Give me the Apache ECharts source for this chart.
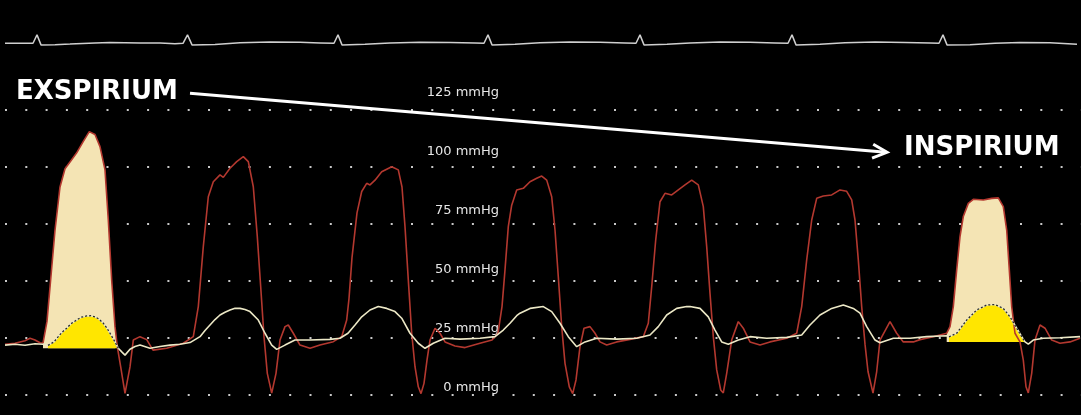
<!DOCTYPE html>
<html>
<head>
<meta charset="utf-8">
<script src="https://cdn.jsdelivr.net/npm/echarts@6/dist/echarts.min.js"></script>
<style>
html,body{margin:0;padding:0;background:#000;}
#chart{width:1081px;height:415px;}
</style>
</head>
<body>
<div id="chart"></div>
<script>
// ---- data (time in samples, pressure in mmHg) ----
const pressureTicks = [0, 25, 50, 75, 100, 125];

// arterial pressure (red)
const arterial = [
[5,22],[15,22.4],[25,23.5],[30,24.6],[35,23.8],[40,22.6],[43,22.5],[47,32],[50,47],[55,72],[60,91],[65,99],[70,102],[76.7,106],[83.3,111],[89.3,115.3],[95,114],[100,108.7],[105,98.5],[108.3,76.5],[111.7,50],[115,29.7],[117.3,20.9],[120.7,12],[125,0.4],[130,12],[133.3,23.8],[140,25.3],[146.7,24],[153,19.4],[166.7,20.2],[176.7,21.5],
[183.3,22.4],[193.3,25.3],[198.3,38.5],[203.3,64.8],[208.3,86.7],[213.3,93.3],[220,96.3],[223.3,95.2],[230,99.2],[236.7,102.1],[243.3,104.3],[248.3,102.1],[253.3,91.1],[257.3,69.2],[260.7,47.2],[264,25.3],[267.3,9.2],[271.7,0.5],[276,9.2],[280,23.8],[285,29.7],[288.3,30.4],[293.3,26.8],[300,21.6],[310,20.2],[320,21.6],[333.3,23.1],[341.7,25.3],[346.7,32.6],
[349,42],[352,60],[357,79.6],[361.7,89],[366.7,92.6],[370,91.9],[375,94],[381.7,97.7],[391.7,99.9],[398.3,98.5],[402,91],[405,73.6],[408.3,50.2],[411.7,26.8],[415,12.1],[418.3,3.3],[421,0.3],[424,4.8],[427,15],[430,23.8],[435,29],[440,26.8],[445,23],[455,21.2],[465,20.5],[480,22.4],[492,23.8],[498,26.8],
[502,38.5],[505,54.6],[508.3,73.6],[511.7,83],[516.7,89.7],[523.3,90.4],[530,93.3],[536.7,94.8],[541.7,95.8],[546.7,94],[551.7,86.7],[555,72.1],[558.3,51.6],[561.7,29.7],[565,13.6],[569.3,3.3],[572.7,0.3],[576,6.3],[580,20.9],[584,29],[590,29.7],[595,26.8],[600,23],[606.7,21.6],[616.7,23],[630,24.1],[643.3,25.3],
[648.3,31.2],[651.7,47.2],[655.7,67.7],[660,84.5],[665,88.2],[671.7,87.5],[678.3,89.7],[685,91.9],[691.7,94],[698.3,91.9],[703.3,82.4],[706.7,64.8],[710,44.3],[713.3,25.3],[716.7,10.7],[720.7,1.9],[723.3,0.6],[726.7,9.2],[731.7,23.8],[738.3,31.9],[743.3,29],[750,23],[760,21.6],[770,23],[786.7,24.6],[796.7,26.8],
[801.7,38.5],[806.7,59],[811.7,76.5],[816.7,86],[823.3,87],[831.7,87.5],[840,89.7],[846.7,89.1],[851.7,85.3],[855,76.5],[858.3,59],[861.7,38.5],[865,22],[868,10],[873,0.5],[876.7,10],[880,23.8],[890,31.9],[896.7,26.8],[903.3,23],[913.3,23],[920,24],[933.3,25.3],[946.7,26.8],
[950,29.7],[953.3,38.5],[956.7,54.6],[960,69.2],[963.3,78],[968.3,83.8],[973.3,85.6],[983.3,85.3],[991.7,86],[998.3,86.2],[1003.3,82.4],[1006.7,72.1],[1009.3,54.6],[1011.7,38.5],[1015,26.8],[1020,23],[1023.3,15],[1026,3.3],[1028.3,0.6],[1031.7,9.2],[1035,23.8],[1040,30.4],[1045,29],[1051.7,23.8],[1060,22.4],[1070,23],[1080,24.6]
];

// second pressure trace (white)
const venous = [
[5,21.6],[15,22],[25,21.5],[35,22.2],[43,22],[48,21.5],[50,21],[54,23],[58.3,25.3],[62,27.2],[66.7,29],[71,31],[76.7,32.6],[81,33.8],[86.7,34.4],[91,34.5],[95,34],[99,33],[103.3,31.2],[107,29],[110,26.8],[115,23],[118.3,20.2],[122,18.5],[125,17.2],[130,19.8],[135,21],[140,21.6],[150,20.2],[160,21],[170,21.6],[180,22],[190,22.7],
[200,25.3],[205,28],[210,30.4],[215,32.8],[220,34.8],[225,36],[230,37],[235,37.8],[240,37.7],[245,37.2],[250,36.3],[258.3,32.6],[265,26.8],[271.7,21.6],[276.7,19.7],[285,21.6],[295,23.8],[310,23.8],[330,24.1],[340,24.6],
[348,26.8],[355,30.4],[361.7,34],[370,37],[378.3,38.5],[386.7,37.7],[395,36.3],[401.7,33.4],[410,26.8],[418.3,22.4],[425,20.2],[433.3,22.4],[445,24.6],[460,24.2],[480,24.6],[495,25.3],
[503.3,28.2],[510,31.2],[516.7,34.5],[520,35.6],[530,37.7],[543.3,38.5],[551.7,36.3],[560,31.2],[568.3,25.3],[576.7,20.9],[585,23],[596.7,24.6],[616.7,24.2],[636.7,24.6],
[650,26],[658.3,29.7],[666.7,34.8],[676.7,37.7],[686.7,38.5],[690,38.5],[700,37.7],[708.3,34],[715,28.2],[721.7,23],[728.3,22],[738.3,23.8],[750,25.3],[766.7,24.6],[786.7,25],[801.7,26],
[810,30.4],[820,34.8],[831.7,37.7],[843.3,39.2],[853.3,37.7],[860,35.6],[866.7,29.7],[875,23.8],[880,22.6],[893.3,24.6],[910,24.6],[926.7,25.3],[946.7,25.7],
[949,25.2],[956.7,26.8],[966.7,32.6],[976.7,37],[986.7,39.2],[995,39.4],[1003.3,37.7],[1010,34],[1016.7,29],[1021.7,25.3],[1025,23],[1028.3,22],[1033.3,23.8],[1043.3,24.6],[1060,24.8],[1080,25.3]
];

// ECG (mV)
const ecg = [
[5,0],[33,0],[37,0.42],[41,-0.08],[55,-0.07],[70,-0.04],[95,0.02],[110,0.04],[140,0.01],[160,0.02],[175,-0.02],[183,0],
[187.5,0.42],[192,-0.08],[215,-0.06],[240,0.03],[270,0.06],[300,0.05],[320,0.02],[334,0],
[338,0.42],[342,-0.08],[365,-0.05],[390,0.02],[420,0.05],[450,0.04],[475,0.01],[484,0],
[488,0.42],[492,-0.08],[515,-0.05],[540,0.03],[570,0.06],[600,0.05],[625,0.02],[636,0],
[640,0.42],[644,-0.08],[667,-0.05],[690,0.02],[720,0.06],[750,0.05],[775,0.02],[788,0],
[792,0.42],[796,-0.08],[820,-0.05],[845,0.03],[875,0.06],[905,0.04],[930,0.01],[939,0],
[943,0.42],[947,-0.08],[970,-0.07],[995,0],[1020,0.04],[1050,0.03],[1077,-0.05]
];

// highlighted beats: fill range of arterial, fill range of venous, baseline mmHg
const expBeat = {art: [43, 118], ven: [48, 119], base: 20.2};
const inspBeat = {art: [946.7, 1020.5], ven: [947.7, 1025.5], base: 23};

// annotations in data units [time, mmHg]
const arrowFrom = [190, 132.1];
const arrowTo = [887, 106.2];
const expLabel = {text: 'EXSPIRIUM', at: [16, 132.6]};
const inspLabel = {text: 'INSPIRIUM', at: [904, 107.8]};

// ---- chart ----
const seg = (arr, r) => arr.filter(p => p[0] >= r[0] && p[0] <= r[1]);
const chart = echarts.init(document.getElementById('chart'), null, {renderer: 'canvas'});

const lineBase = {type: 'line', showSymbol: false, symbol: 'none', animation: false, xAxisIndex: 0, yAxisIndex: 0, clip: false};

chart.setOption({
  backgroundColor: '#000',
  animation: false,
  grid: [
    {left: 0, right: 0, top: 109.5, bottom: 20.7},
    {left: 0, right: 0, top: 92.5, bottom: 27},
    {left: 0, right: 0, top: 23.3, height: 40}
  ],
  xAxis: [
    {type: 'value', gridIndex: 0, min: 0, max: 1081, show: false},
    {type: 'value', gridIndex: 1, min: 0, max: 1081, show: false},
    {type: 'value', gridIndex: 2, min: 0, max: 1081, show: false}
  ],
  yAxis: [
    {type: 'value', gridIndex: 0, min: 0, max: 125, interval: 25,
     axisLine: {show: false}, axisTick: {show: false}, axisLabel: {show: false},
     splitLine: {show: true, lineStyle: {color: '#c8c8c8', width: 2, type: [2, 18.3], dashOffset: -5}}},
    {type: 'value', gridIndex: 1, min: 0, max: 125, interval: 25,
     axisLine: {show: false}, axisTick: {show: false}, splitLine: {show: false},
     axisLabel: {inside: true, margin: 499, align: 'right', color: '#e6e6e6', fontSize: 13,
       fontFamily: 'DejaVu Sans', formatter: v => pressureTicks.includes(v) ? v + ' mmHg' : ''}},
    {type: 'value', gridIndex: 2, min: -1, max: 1, show: false}
  ],
  series: [
    Object.assign({}, lineBase, {name: 'exp fill', data: seg(arterial, expBeat.art),
      lineStyle: {width: 0}, areaStyle: {color: '#f4e4b4', opacity: 1, origin: expBeat.base}}),
    Object.assign({}, lineBase, {name: 'insp fill', data: seg(arterial, inspBeat.art),
      lineStyle: {width: 0}, areaStyle: {color: '#f4e4b4', opacity: 1, origin: inspBeat.base}}),
    Object.assign({}, lineBase, {name: 'arterial', data: arterial,
      lineStyle: {color: '#b3382f', width: 1.6}}),
    Object.assign({}, lineBase, {name: 'exp yellow', data: seg(venous, expBeat.ven),
      lineStyle: {width: 0}, areaStyle: {color: '#ffe600', opacity: 1, origin: expBeat.base}}),
    Object.assign({}, lineBase, {name: 'insp yellow', data: seg(venous, inspBeat.ven),
      lineStyle: {width: 0}, areaStyle: {color: '#ffe600', opacity: 1, origin: inspBeat.base}}),
    Object.assign({}, lineBase, {name: 'venous', data: venous,
      lineStyle: {color: '#ece8c6', width: 1.6}}),
    Object.assign({}, lineBase, {name: 'exp edge', data: seg(venous, [expBeat.ven[0] - 3, expBeat.ven[1]]),
      lineStyle: {color: '#2a2a2a', width: 1.3, type: [2, 2]}}),
    Object.assign({}, lineBase, {name: 'insp edge', data: seg(venous, inspBeat.ven),
      lineStyle: {color: '#2a2a2a', width: 1.3, type: [2, 2]}}),
    Object.assign({}, lineBase, {name: 'ecg', data: ecg, xAxisIndex: 2, yAxisIndex: 2,
      lineStyle: {color: '#cfcfcf', width: 1.5}})
  ]
});

// annotations through the main axes
const px = p => chart.convertToPixel({xAxisIndex: 0, yAxisIndex: 0}, p);
const a = px(arrowFrom), b = px(arrowTo);
const ang = Math.atan2(b[1] - a[1], b[0] - a[0]);
const L = 16, phi = 0.45;
const arm1 = [b[0] - L * Math.cos(ang + phi), b[1] - L * Math.sin(ang + phi)];
const arm2 = [b[0] - L * Math.cos(ang - phi), b[1] - L * Math.sin(ang - phi)];
const e = px(expLabel.at), i = px(inspLabel.at);
const titleFont = 'bold 26px "DejaVu Sans"';
chart.setOption({
  graphic: [
    {type: 'line', shape: {x1: a[0], y1: a[1], x2: b[0] - 1, y2: b[1]}, style: {stroke: '#fff', lineWidth: 3}},
    {type: 'polyline', shape: {points: [arm1, b, arm2]}, style: {stroke: '#fff', lineWidth: 3, fill: null, lineJoin: 'miter'}},
    {type: 'text', x: e[0], y: e[1], style: {text: expLabel.text, fill: '#fff', font: titleFont, align: 'left', verticalAlign: 'middle'}},
    {type: 'text', x: i[0], y: i[1], style: {text: inspLabel.text, fill: '#fff', font: titleFont, align: 'left', verticalAlign: 'middle'}}
  ]
});
</script>
</body>
</html>
